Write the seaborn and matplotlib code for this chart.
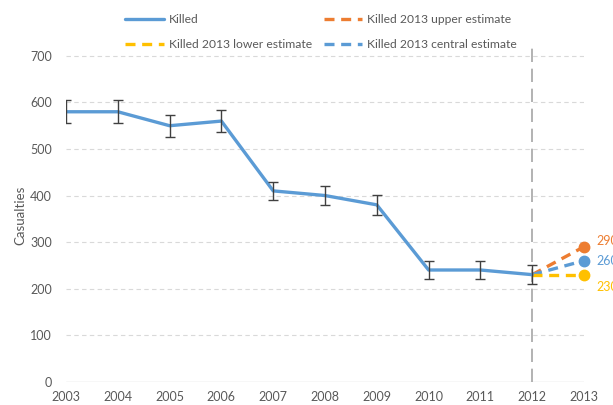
import matplotlib
matplotlib.use("Agg")
import matplotlib.pyplot as plt
import seaborn as sns
import pandas as pd
from matplotlib.lines import Line2D

years = [2003, 2004, 2005, 2006, 2007, 2008, 2009, 2010, 2011, 2012]
killed = [580, 580, 550, 560, 410, 400, 380, 240, 240, 230]
killed_err = [25, 25, 24, 23, 20, 21, 21, 20, 19, 20]

est_years = [2012, 2013]
upper_est = [230, 290]
central_est = [230, 260]
lower_est = [230, 230]

xticks = list(range(2003, 2014))
yticks = [0, 100, 200, 300, 400, 500, 600, 700]

BLUE = "#5B9BD5"
ORANGE = "#ED7D31"
YELLOW = "#FFC000"
TXT = "#595959"

sns.set_theme(style="white")
plt.rcParams["font.family"] = ["Lato", "DejaVu Sans"]

fig = plt.figure(figsize=(6.13, 4.05), dpi=100)
ax = fig.add_axes([66 / 613, 1 - 381.7 / 405, (584 - 66) / 613, (381.7 - 48) / 405])

df = pd.DataFrame({"year": years, "killed": killed})
sns.lineplot(data=df, x="year", y="killed", ax=ax, color=BLUE, lw=2.4, zorder=4)
ax.errorbar(years, killed, yerr=killed_err, fmt="none", ecolor="#404040",
            elinewidth=1.0, capsize=3.5, capthick=1.0, zorder=5)

est = [("Killed 2013 upper estimate", upper_est, ORANGE, 4),
       ("Killed 2013 central estimate", central_est, BLUE, 0),
       ("Killed 2013 lower estimate", lower_est, YELLOW, -9)]
for name, vals, col, off in est:
    d = pd.DataFrame({"year": est_years, "v": vals})
    sns.lineplot(data=d, x="year", y="v", ax=ax, color=col, lw=2.4,
                 linestyle=(0, (3, 2)), zorder=3)
    ax.plot([est_years[-1]], [vals[-1]], "o", color=col, ms=7.5,
            clip_on=False, zorder=6)
    ax.annotate(str(vals[-1]), (est_years[-1], vals[-1]), xytext=(9, off),
                textcoords="offset points", color=col, fontsize=9,
                va="center", ha="left", annotation_clip=False)

ax.axvline(2012, color="#A6A6A6", lw=1.2, linestyle=(0, (8, 4)), zorder=2)

ax.set_xlim(2003, 2013)
ax.set_ylim(0, 717)
ax.set_xticks(xticks)
ax.set_xticklabels([str(x) for x in xticks])
ax.set_yticks(yticks)
for y in yticks[1:]:
    ax.axhline(y, color="#D9D9D9", lw=0.8, linestyle=(0, (4, 3)), zorder=1)
ax.axhline(0, color="#D9D9D9", lw=1.0, zorder=1)

for s in ax.spines.values():
    s.set_visible(False)
ax.tick_params(axis="both", length=0, labelsize=9, colors=TXT)
ax.tick_params(axis="x", pad=7)
ax.tick_params(axis="y", pad=10)
ax.set_xlabel("")
ax.set_ylabel("Casualties", color=TXT, fontsize=9.5, labelpad=3)

handles = [
    Line2D([], [], color=BLUE, lw=2.4),
    Line2D([], [], color=YELLOW, lw=2.4, linestyle=(0, (3, 2))),
    Line2D([], [], color=ORANGE, lw=2.4, linestyle=(0, (3, 2))),
    Line2D([], [], color=BLUE, lw=2.4, linestyle=(0, (3, 2))),
]
labels = ["Killed", "Killed 2013 lower estimate",
          "Killed 2013 upper estimate", "Killed 2013 central estimate"]
leg = fig.legend(handles, labels, ncol=2, loc="center",
                 bbox_to_anchor=(321 / 613, 1 - 32 / 405), frameon=False,
                 fontsize=8.7, handlelength=3.2, handletextpad=0.4,
                 columnspacing=1.0, labelspacing=1.15)
for t in leg.get_texts():
    t.set_color(TXT)

fig.savefig("out.png", dpi=100)
